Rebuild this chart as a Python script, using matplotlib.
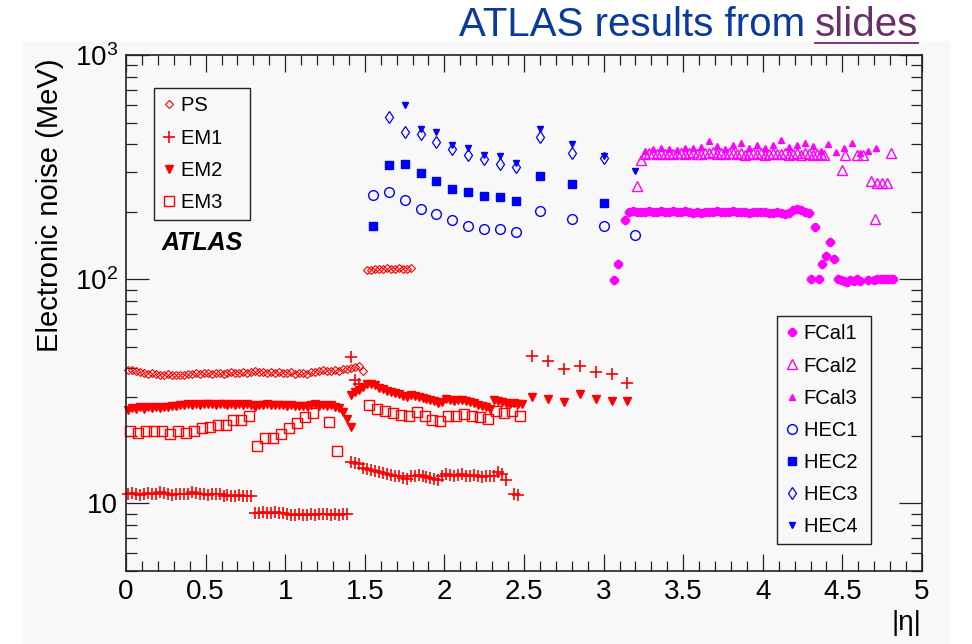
import numpy as np
import matplotlib
matplotlib.use("Agg")
import matplotlib.pyplot as plt
from matplotlib.patches import Rectangle
from matplotlib.lines import Line2D
from matplotlib.ticker import LogLocator, NullFormatter, FixedLocator, MultipleLocator

plt.rcParams['font.family'] = ['Liberation Sans', 'DejaVu Sans']
plt.rcParams['mathtext.fontset'] = 'custom'
plt.rcParams['mathtext.rm'] = 'Liberation Sans'
plt.rcParams['mathtext.it'] = 'Liberation Sans:italic'


def seg(start, step, n):
    # regular eta bin centres
    return start + step * np.arange(n)


# ---- electronic noise (MeV) versus |eta| ----
# presampler
ps_barrel = [39.5, 39.3, 39.0, 38.6, 38.2, 37.9, 38.1, 37.8,
             37.6, 37.5, 37.8, 37.4, 37.6, 37.3, 37.5, 37.7,
             37.9, 38.2, 37.8, 38.3, 38.1, 37.7, 38.0, 38.2,
             37.9, 38.1, 38.4, 38.0, 38.3, 38.6, 38.2, 38.5,
             38.9, 38.4, 38.7, 38.2, 38.5, 38.3, 38.6, 38.0,
             38.3, 38.5, 37.9, 38.2, 38.0, 37.8, 38.4, 38.6,
             38.9, 39.2, 38.8, 39.0, 39.3, 39.1, 39.6, 39.9,
             40.3, 40.8, 41.2, 38.9]
ps_endcap = [110, 110.5, 111, 111.5, 111, 112, 111.5, 111, 112, 111.5, 111, 112]

# EM layer 1
em1_barrel_a = [11.0, 11.1, 11.0, 10.9, 11.0, 11.1, 11.0, 11.0, 11.3, 11.1, 11.0, 10.9,
                11.0, 11.0, 11.0, 11.0, 11.3, 11.1, 11.0, 11.0, 10.9, 11.0, 11.0, 11.0,
                10.8, 10.9, 10.8, 10.8, 10.9, 10.8, 10.8, 10.8]
em1_barrel_b = [9.1, 9.1, 9.2, 9.1, 9.1, 9.2, 9.1, 9.1, 9.0, 8.9, 8.9, 9.0,
                8.9, 8.9, 9.0, 8.9, 9.0, 9.0, 9.0, 8.9, 9.0, 8.9, 9.0, 9.0]
em1_crack_eta = [1.4125, 1.4375, 1.4625, 1.4125, 1.4375, 1.4625]
em1_crack = [45, 35.5, 34.2, 15.3, 15.2, 15.0]
em1_endcap = [14.4, 14.3, 14.1, 13.9, 13.8, 13.7, 13.6, 13.4, 13.3, 13.2, 13.0, 12.8,
              13.2, 13.3, 13.4, 13.3, 13.1, 13.0, 12.9, 12.7, 13.3, 13.5, 13.4, 13.3,
              13.4, 13.5, 13.3, 13.2, 13.4, 13.2, 13.1, 13.2, 13.3, 13.2, 13.8, 13.6, 12.7]
em1_edge_eta = [2.4375, 2.4625]
em1_edge = [11.0, 10.9]
em1_inner = [45.5, 43, 39.6, 40.9, 38.5, 37.9, 34.6]

# EM layer 2
em2_barrel = [26.0, 26.6, 26.3, 26.9, 26.5, 26.8, 26.6, 26.9, 26.7, 27.0, 26.8, 27.1,
              27.3, 27.5, 27.4, 27.7, 27.6, 27.8, 27.6, 27.9, 27.7, 27.8, 27.6, 27.8,
              27.7, 27.5, 27.7, 27.6, 27.8, 27.6, 27.7, 27.5, 26.9, 27.4, 27.6, 27.7,
              27.5, 27.6, 27.4, 27.5, 27.3, 27.4, 27.2, 27.3, 27.1, 27.3, 27.4, 27.8,
              27.3, 27.5, 27.2, 27.4, 27.0, 26.6, 25.6, 23.9, 21.9]
em2_endcap = [30.6, 31.3, 32.2, 33.0, 34.0, 34.2, 33.6, 32.7, 32.3, 31.8, 31.5, 31.0,
              30.7, 30.3, 29.8, 30.4, 30.2, 29.7, 29.4, 29.1, 28.8, 28.6, 28.2, 28.4,
              29.2, 28.9, 28.6, 28.8, 28.9, 28.5, 28.3, 28.0, 27.6, 27.2, 26.8, 26.5,
              29.0, 28.6, 28.3, 28.1, 27.9, 28.0, 27.8, 27.9]
em2_inner = [29.8, 29.3, 28.3, 30.9, 29.3, 28.6, 28.5]

# EM layer 3
em3_barrel_a = [21.0, 20.6, 21.0, 21.0, 21.0, 20.5, 21.0, 20.6,
                21.0, 21.6, 21.9, 22.3, 22.5, 23.6, 23.6, 24.5]
em3_barrel_b_eta = [0.825, 0.875, 0.925, 0.975, 1.025, 1.075, 1.125, 1.175, 1.275, 1.325]
em3_barrel_b = [18.0, 19.6, 19.6, 20.5, 21.6, 22.8, 24.3, 25.3, 23.0, 17.1]
em3_endcap = [27.6, 26.5, 25.8, 25.3, 24.7, 24.5, 25.6, 24.5, 23.6, 23.3,
              24.5, 24.5, 25.0, 24.5, 24.3, 23.9, 25.8, 25.3, 25.8, 24.5]

# hadronic end-cap
hec_eta = [1.55, 1.65, 1.75, 1.85, 1.95, 2.05, 2.15, 2.25, 2.35, 2.45, 2.6, 2.8, 3.0, 3.2]
hec1 = [237, 245, 225, 205, 196, 183, 173, 168, 167, 162, 201, 185, 173, 158]
hec2 = [172, 323, 326, 298, 275, 253, 244, 235, 232, 224, 289, 267, 219]
hec3 = [530, 452, 443, 409, 379, 358, 342, 325, 316, 432, 366, 346]
hec4 = [598, 466, 455, 398, 386, 357, 355, 331, 467, 399, 355, 303]

# forward calorimeter
fcal1_rise_eta = [3.0625, 3.0875, 3.1375]
fcal1_rise = [99, 117.5, 183]
fcal1_flat = [199, 201, 200, 199, 200, 201, 199, 200, 201, 200, 199, 201,
              200, 199, 201, 200, 198, 199, 197, 199, 200, 199, 201, 200,
              199, 200, 201, 199, 200, 199, 198, 200, 199, 200, 199, 198,
              197, 199, 197, 196, 198, 204, 206, 203, 200, 197]
fcal1_tail_eta = [4.30, 4.33, 4.35, 4.37, 4.40, 4.42, 4.45, 4.47, 4.49, 4.51, 4.53,
                  4.55, 4.57, 4.59, 4.61, 4.66, 4.70, 4.72, 4.74, 4.76, 4.78, 4.80, 4.82]
fcal1_tail = [100, 171, 100, 117.5, 127, 146, 123, 100, 99, 98, 97,
              99, 98, 100, 98, 99, 99, 100, 100, 100, 100, 100, 100]

fcal2_rise_eta = [3.2125, 3.2375]
fcal2_rise = [261, 340]
fcal2_flat = [362, 366, 364, 360, 365, 363, 367, 361, 364, 366, 362, 365,
              368, 363, 361, 366, 364, 369, 362, 365, 360, 364, 367, 362,
              365, 359, 363, 366, 361, 364, 358, 362, 365, 360, 363, 366,
              358, 362, 364, 359, 365, 361, 357, 363, 360, 358]
fcal2_tail_eta = [4.50, 4.515, 4.59, 4.63, 4.68, 4.705, 4.72, 4.75, 4.78, 4.805]
fcal2_tail = [307, 358, 358, 358, 274, 186, 270, 268, 270, 364]

fcal3 = [372, 380, 385, 382, 378, 383, 386, 390, 414, 392, 380, 395,
         407, 385, 398, 385, 395, 417, 388, 395, 405, 392, 372, 399,
         368, 384, 405, 365, 372, 384]

ps_eta = np.concatenate([seg(0.0125, 0.025, 60), seg(1.5125, 0.025, 12)])
ps_val = ps_barrel + ps_endcap
em1_eta = np.concatenate([seg(0.0125, 0.025, 32), seg(0.8125, 0.025, 24), em1_crack_eta,
                          seg(1.4875, 0.025, 37), em1_edge_eta, seg(2.55, 0.1, 7)])
em1_val = em1_barrel_a + em1_barrel_b + em1_crack + em1_endcap + em1_edge + em1_inner
em2_eta = np.concatenate([seg(0.0125, 0.025, 57), seg(1.4125, 0.025, 44), seg(2.55, 0.1, 7)])
em2_val = em2_barrel + em2_endcap + em2_inner
em3_eta = np.concatenate([seg(0.025, 0.05, 16), em3_barrel_b_eta, seg(1.525, 0.05, 20)])
em3_val = em3_barrel_a + em3_barrel_b + em3_endcap
fcal1_eta = np.concatenate([fcal1_rise_eta, seg(3.1625, 0.025, 46), fcal1_tail_eta])
fcal1_val = fcal1_rise + fcal1_flat + fcal1_tail
fcal2_eta = np.concatenate([fcal2_rise_eta, seg(3.2625, 0.025, 46), fcal2_tail_eta])
fcal2_val = fcal2_rise + fcal2_flat + fcal2_tail
fcal3_eta = seg(3.2625, 0.05, 30)

RED, BLUE, MAG = '#ff0000', '#0000ff', '#ff00ff'
panel = '#f8f8f8'

fig = plt.figure(figsize=(9.72, 6.44), dpi=100, facecolor='white')
fig.patches.append(Rectangle((22 / 972, 0), (951 - 22) / 972, 1 - 41 / 644,
                             transform=fig.transFigure, facecolor=panel,
                             edgecolor='none', zorder=-10))
ax = fig.add_axes([126 / 972, 1 - 571 / 644, 796 / 972, 516 / 644])
ax.set_facecolor(panel)

def pts(x, y, label, marker, color, ms, filled=True, mew=1.0):
    h, = ax.plot(x, y, ls='none', marker=marker, ms=ms, color=color,
                 mfc=color if filled else 'none', mec=color, mew=mew,
                 label=label, clip_on=False)
    return h

h_ps = pts(ps_eta, ps_val, 'PS', 'D', RED, 3.6, filled=False, mew=0.8)
h_em1 = pts(em1_eta, em1_val, 'EM1', '+', RED, 8, mew=1.2)
h_em2 = pts(em2_eta, em2_val, 'EM2', 'v', RED, 6)
h_em3 = pts(em3_eta, em3_val, 'EM3', 's', RED, 6.5, filled=False, mew=1.0)
h_f1 = pts(fcal1_eta, fcal1_val, 'FCal1', '8', MAG, 5.5)
h_f2 = pts(fcal2_eta, fcal2_val, 'FCal2', '^', MAG, 7, filled=False, mew=1.0)
h_f3 = pts(fcal3_eta, fcal3, 'FCal3', '^', MAG, 5)
h_h1 = pts(hec_eta, hec1, 'HEC1', 'o', BLUE, 7, filled=False, mew=1.0)
h_h2 = pts(hec_eta[:13], hec2, 'HEC2', 's', BLUE, 6)
h_h3 = pts(hec_eta[1:13], hec3, 'HEC3', 'd', BLUE, 6.5, filled=False, mew=0.9)
h_h4 = pts(hec_eta[2:], hec4, 'HEC4', 'v', BLUE, 4.5)

ax.set_xlim(0, 5)
ax.set_ylim(5, 1000)
ax.set_yscale('log')
ax.xaxis.set_major_locator(MultipleLocator(0.5))
ax.xaxis.set_minor_locator(MultipleLocator(0.1))
ax.set_xticks([0, 0.5, 1, 1.5, 2, 2.5, 3, 3.5, 4, 4.5, 5])
ax.set_xticklabels(['0', '0.5', '1', '1.5', '2', '2.5', '3', '3.5', '4', '4.5', '5'])
ax.yaxis.set_major_locator(FixedLocator([10, 100, 1000]))
ax.set_yticklabels(['10', r'$\mathdefault{10^{2}}$', r'$\mathdefault{10^{3}}$'])
ax.yaxis.set_minor_locator(LogLocator(base=10, subs=np.arange(2, 10)))
ax.yaxis.set_minor_formatter(NullFormatter())
ax.tick_params(which='both', direction='in', top=True, right=True,
               color='#222222', width=0.9, labelsize=20)
ax.tick_params(axis='x', which='major', length=12, pad=6)
ax.tick_params(axis='x', which='minor', length=7)
ax.tick_params(axis='y', which='major', length=16.5, pad=6)
ax.tick_params(axis='y', which='minor', length=8)
for sp in ax.spines.values():
    sp.set_color('#222222')
    sp.set_linewidth(1.2)

fig.text(50 / 972, 1 - 58 / 644, 'Electronic noise (MeV)', rotation=90,
         ha='center', va='top', fontsize=21)
fig.text(921 / 972, 1 - 623 / 644, '|η|', ha='right', va='center', fontsize=20)
fig.text(162 / 972, 1 - 243 / 644, 'ATLAS', ha='left', va='center', fontsize=18,
         fontweight='bold', fontstyle='italic')

leg_kw = dict(frameon=True, fancybox=False, edgecolor='#222222', facecolor=panel,
              framealpha=1, fontsize=14.5, handlelength=0.65, handletextpad=0.25,
              labelspacing=0.65, borderpad=0.42, borderaxespad=0,
              bbox_transform=fig.transFigure, loc='upper left')
leg1 = ax.legend(handles=[h_ps, h_em1, h_em2, h_em3],
                 labels=['PS      ', 'EM1   ', 'EM2   ', 'EM3   '],
                 bbox_to_anchor=(154 / 972, 1 - 88 / 644), **leg_kw)
leg1.get_frame().set_linewidth(1.0)
ax.add_artist(leg1)
leg2 = ax.legend(handles=[h_f1, h_f2, h_f3, h_h1, h_h2, h_h3, h_h4],
                 labels=['FCal1', 'FCal2', 'FCal3', 'HEC1 ', 'HEC2 ', 'HEC3 ', 'HEC4 '],
                 bbox_to_anchor=(777 / 972, 1 - 316 / 644), **leg_kw)
leg2.get_frame().set_linewidth(1.0)

# title line with underlined link word
t2 = fig.text(918 / 972, 1 - 36 / 644, 'slides', ha='right', va='baseline',
              fontsize=29, color='#6b2d6b')
fig.canvas.draw()
bb = t2.get_window_extent()
fig.text((bb.x0 - 10) / 972, 1 - 36 / 644, 'ATLAS results from', ha='right',
         va='baseline', fontsize=29, color='#0b3a9e')
fig.add_artist(Line2D([bb.x0 / 972, bb.x1 / 972], [1 - 43 / 644, 1 - 43 / 644],
                      transform=fig.transFigure, color='#6b2d6b', lw=1.3))

fig.savefig('out.png', dpi=100, facecolor='white')
